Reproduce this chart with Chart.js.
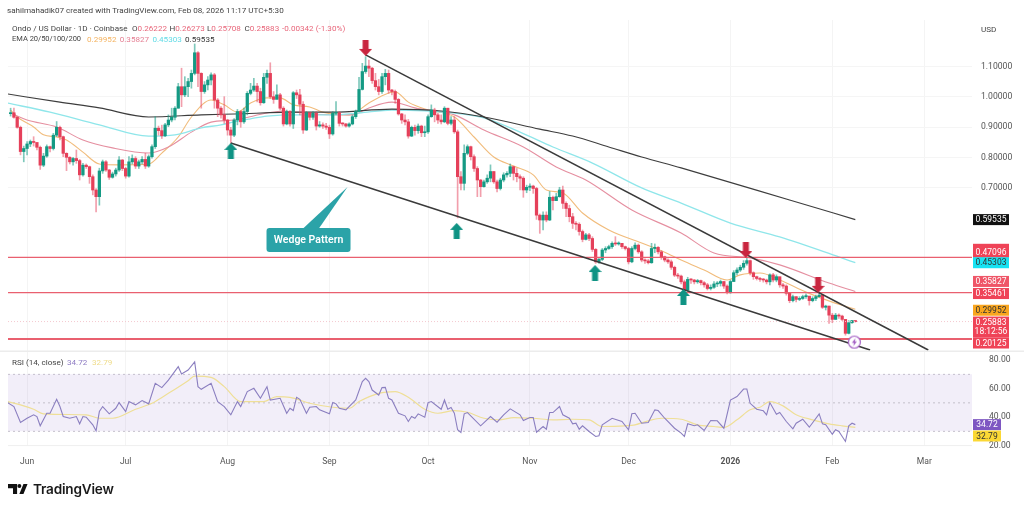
<!DOCTYPE html>
<html>
<head>
<meta charset="utf-8">
<title>Ondo / US Dollar</title>
<script src="https://cdn.jsdelivr.net/npm/chart.js@4/dist/chart.umd.min.js"></script>
<style>
    html, body { margin: 0; padding: 0; background: #fff; overflow: hidden; }
    #wrap { position: relative; width: 1024px; height: 509px; filter: blur(0.4px); font-family: Roboto, sans-serif; }
    canvas { position: absolute; left: 0; top: 0; }
    .txt { position: absolute; display: flex; white-space: nowrap; font-size: 8.1px; line-height: 12px; color: #444; }
    .txt b { font-weight: 400; color: #e8667a; }
    #logo { position: absolute; left: 8px; top: 484px; }
    #brand { position: absolute; left: 33px; top: 479px; font: 600 13.6px/20px Inter, sans-serif; color: #1a1a1a; letter-spacing: -0.2px; }
</style>
</head>
<body>
<div id="wrap">
    <canvas id="chart" width="1024" height="509"></canvas>
    <div class="txt" style="left:7px;top:4px">sahilmahadik07 created with TradingView.com, Feb 08, 2026 11:17 UTC+5:30</div>
    <div class="txt" style="left:12px;top:22px">
        <span style="width:120px">Ondo / US Dollar · 1D · Coinbase</span>
        <span style="width:37.5px">O<b>0.26222</b></span>
        <span style="width:37.5px">H<b>0.26273</b></span>
        <span style="width:37.5px">L<b>0.25708</b></span>
        <span style="width:37.5px">C<b>0.25883</b></span>
        <span><b>-0.00342 (-1.30%)</b></span>
    </div>
    <div class="txt" style="left:12px;top:33px">
        <span style="width:75px;font-size:7.5px">EMA 20/50/100/200</span>
        <span style="width:32.7px;color:#f4b25e">0.29952</span>
        <span style="width:32.7px;color:#e57f93">0.35827</span>
        <span style="width:32.7px;color:#62dbe6">0.45303</span>
        <span style="color:#333">0.59535</span>
    </div>
    <div class="txt" style="left:981px;top:23px">USD</div>
    <div class="txt" style="left:12px;top:356px">
        <span style="width:55px">RSI (14, close)</span>
        <span style="width:25px;color:#8e7cc3">34.72</span>
        <span style="color:#efdc8a">32.79</span>
    </div>
    <svg id="logo" width="20" height="11" viewBox="0 0 22 12">
        <path d="M0 0h10v11H5.500V4.500H0z M17 0h4.500L17 11h-4.500z" fill="#111"/>
        <circle cx="12.500" cy="2.200" r="2.200" fill="#111"/>
    </svg>
    <div id="brand">TradingView</div>
</div>

<script>
// candles run one per day, day 0 is 1 Jun 2025
const firstCandleDay = -5;
const firstOpen = 0.945;

const closes = [
    0.948, 0.933, 0.900, 0.820, 0.830, 0.845, 0.853, 0.850, 0.834, 0.775,
    0.805, 0.836, 0.830, 0.874, 0.900, 0.869, 0.814, 0.801, 0.786, 0.797,
    0.790, 0.743, 0.775, 0.770, 0.737, 0.693, 0.671, 0.756, 0.786, 0.759,
    0.735, 0.746, 0.759, 0.792, 0.764, 0.739, 0.786, 0.797, 0.772, 0.786,
    0.794, 0.772, 0.803, 0.836, 0.897, 0.889, 0.872, 0.908, 0.924, 0.933,
    0.963, 1.034, 1.007, 1.034, 1.051, 1.078, 1.146, 1.078, 1.018, 1.040,
    1.056, 1.073, 0.990, 0.963, 0.941, 0.924, 0.891, 0.874, 0.924, 0.952,
    0.918, 0.952, 1.012, 1.023, 1.036, 1.018, 0.981, 1.065, 1.078, 1.001,
    0.992, 1.007, 0.963, 0.911, 0.952, 0.911, 1.014, 1.007, 0.976, 0.891,
    0.948, 0.933, 0.946, 0.904, 0.908, 0.904, 0.900, 0.878, 0.946, 0.948,
    0.913, 0.911, 0.904, 0.911, 0.935, 0.952, 1.025, 1.084, 1.102, 1.095,
    1.054, 1.034, 1.018, 1.067, 1.078, 1.023, 1.018, 0.992, 0.944, 0.924,
    0.918, 0.871, 0.900, 0.889, 0.904, 0.882, 0.885, 0.935, 0.957, 0.941,
    0.924, 0.918, 0.963, 0.913, 0.924, 0.885, 0.737, 0.715, 0.814, 0.836,
    0.803, 0.764, 0.726, 0.704, 0.720, 0.732, 0.754, 0.720, 0.698, 0.726,
    0.743, 0.748, 0.770, 0.748, 0.737, 0.732, 0.693, 0.702, 0.706, 0.698,
    0.610, 0.594, 0.610, 0.594, 0.669, 0.658, 0.671, 0.693, 0.649, 0.632,
    0.605, 0.583, 0.580, 0.556, 0.530, 0.545, 0.533, 0.497, 0.456, 0.464,
    0.495, 0.500, 0.506, 0.517, 0.515, 0.517, 0.506, 0.500, 0.456, 0.500,
    0.511, 0.489, 0.462, 0.459, 0.453, 0.500, 0.504, 0.489, 0.473, 0.462,
    0.456, 0.438, 0.412, 0.409, 0.390, 0.363, 0.398, 0.396, 0.390, 0.394,
    0.387, 0.380, 0.368, 0.372, 0.383, 0.385, 0.391, 0.376, 0.354, 0.391,
    0.420, 0.429, 0.438, 0.451, 0.460, 0.420, 0.407, 0.401, 0.398, 0.396,
    0.390, 0.413, 0.396, 0.407, 0.380, 0.376, 0.352, 0.328, 0.341, 0.332,
    0.335, 0.341, 0.343, 0.328, 0.335, 0.341, 0.346, 0.306, 0.310, 0.280,
    0.266, 0.280, 0.277, 0.266, 0.220, 0.255, 0.2622, 0.25883
];
const highs = [
    0.963, 0.963, 0.935, 0.904, 0.838, 0.853, 0.858, 0.869, 0.847, 0.838,
    0.814, 0.842, 0.838, 0.880, 0.919, 0.904, 0.871, 0.816, 0.803, 0.801,
    0.825, 0.794, 0.781, 0.779, 0.772, 0.743, 0.698, 0.765, 0.792, 0.790,
    0.761, 0.752, 0.765, 0.803, 0.794, 0.768, 0.803, 0.809, 0.803, 0.792,
    0.803, 0.814, 0.809, 0.842, 0.935, 0.904, 0.907, 0.913, 0.941, 0.963,
    0.968, 1.045, 1.095, 1.067, 1.062, 1.089, 1.175, 1.150, 1.080, 1.051,
    1.067, 1.080, 1.078, 0.995, 0.968, 1.001, 0.926, 0.900, 0.929, 0.959,
    0.955, 0.963, 1.018, 1.045, 1.062, 1.045, 1.029, 1.078, 1.089, 1.113,
    1.018, 1.040, 1.012, 0.968, 0.957, 0.955, 1.018, 1.023, 1.025, 0.985,
    0.952, 0.946, 0.952, 0.952, 0.919, 0.915, 0.913, 0.907, 0.952, 0.985,
    0.952, 0.915, 0.913, 0.915, 0.941, 0.957, 1.065, 1.111, 1.133, 1.122,
    1.098, 1.078, 1.058, 1.078, 1.091, 1.089, 1.025, 1.023, 0.995, 0.946,
    0.941, 0.926, 0.904, 0.907, 0.911, 0.907, 0.904, 0.941, 0.974, 0.963,
    0.946, 0.941, 0.968, 0.963, 0.935, 0.935, 0.891, 0.754, 0.842, 0.842,
    0.838, 0.809, 0.770, 0.728, 0.726, 0.743, 0.776, 0.754, 0.726, 0.732,
    0.750, 0.754, 0.779, 0.772, 0.764, 0.743, 0.737, 0.709, 0.713, 0.709,
    0.702, 0.614, 0.621, 0.621, 0.688, 0.673, 0.682, 0.702, 0.706, 0.654,
    0.643, 0.616, 0.589, 0.585, 0.561, 0.550, 0.550, 0.539, 0.500, 0.471,
    0.500, 0.506, 0.511, 0.522, 0.539, 0.522, 0.515, 0.508, 0.504, 0.506,
    0.519, 0.515, 0.493, 0.466, 0.464, 0.517, 0.515, 0.506, 0.493, 0.475,
    0.466, 0.462, 0.442, 0.418, 0.412, 0.396, 0.405, 0.401, 0.398, 0.398,
    0.396, 0.391, 0.385, 0.380, 0.391, 0.391, 0.396, 0.391, 0.380, 0.396,
    0.427, 0.436, 0.445, 0.460, 0.468, 0.462, 0.423, 0.409, 0.405, 0.401,
    0.399, 0.416, 0.418, 0.413, 0.405, 0.385, 0.380, 0.354, 0.346, 0.341,
    0.341, 0.346, 0.350, 0.341, 0.341, 0.346, 0.352, 0.346, 0.313, 0.310,
    0.286, 0.286, 0.284, 0.280, 0.266, 0.262, 0.26273, 0.26222
];
const lows = [
    0.937, 0.930, 0.897, 0.809, 0.786, 0.809, 0.836, 0.838, 0.825, 0.761,
    0.770, 0.801, 0.819, 0.825, 0.869, 0.858, 0.803, 0.757, 0.779, 0.775,
    0.781, 0.726, 0.739, 0.764, 0.715, 0.677, 0.621, 0.643, 0.748, 0.754,
    0.728, 0.732, 0.739, 0.754, 0.757, 0.732, 0.735, 0.779, 0.764, 0.764,
    0.779, 0.764, 0.768, 0.798, 0.830, 0.874, 0.863, 0.869, 0.902, 0.918,
    0.924, 0.963, 0.968, 1.001, 1.001, 1.029, 1.073, 1.034, 0.963, 1.012,
    1.023, 1.040, 0.963, 0.935, 0.930, 0.913, 0.874, 0.845, 0.869, 0.908,
    0.900, 0.913, 0.941, 1.007, 1.018, 0.984, 0.973, 0.979, 1.045, 0.995,
    0.979, 0.995, 0.957, 0.904, 0.908, 0.904, 0.896, 0.995, 0.941, 0.880,
    0.889, 0.924, 0.926, 0.891, 0.900, 0.896, 0.893, 0.863, 0.874, 0.941,
    0.904, 0.904, 0.900, 0.900, 0.908, 0.929, 0.952, 1.023, 1.078, 1.067,
    1.045, 1.023, 1.007, 1.012, 1.040, 1.012, 1.007, 0.979, 0.940, 0.913,
    0.908, 0.864, 0.869, 0.874, 0.880, 0.869, 0.869, 0.880, 0.933, 0.918,
    0.913, 0.911, 0.915, 0.908, 0.908, 0.880, 0.601, 0.693, 0.693, 0.809,
    0.792, 0.754, 0.671, 0.671, 0.702, 0.715, 0.720, 0.715, 0.687, 0.693,
    0.720, 0.735, 0.737, 0.726, 0.720, 0.693, 0.669, 0.684, 0.691, 0.682,
    0.596, 0.550, 0.561, 0.588, 0.592, 0.627, 0.658, 0.669, 0.632, 0.605,
    0.588, 0.566, 0.561, 0.544, 0.522, 0.528, 0.526, 0.490, 0.451, 0.451,
    0.460, 0.486, 0.497, 0.500, 0.510, 0.511, 0.500, 0.495, 0.449, 0.453,
    0.495, 0.484, 0.456, 0.451, 0.449, 0.451, 0.486, 0.482, 0.464, 0.456,
    0.451, 0.431, 0.407, 0.401, 0.383, 0.358, 0.358, 0.385, 0.383, 0.385,
    0.380, 0.372, 0.363, 0.363, 0.368, 0.374, 0.376, 0.368, 0.350, 0.352,
    0.391, 0.413, 0.424, 0.431, 0.445, 0.413, 0.398, 0.396, 0.391, 0.389,
    0.383, 0.380, 0.390, 0.390, 0.372, 0.368, 0.346, 0.321, 0.324, 0.324,
    0.328, 0.332, 0.335, 0.313, 0.324, 0.328, 0.339, 0.302, 0.297, 0.253,
    0.255, 0.266, 0.269, 0.262, 0.214, 0.218, 0.253, 0.25708
];

const ema20Days = [-5, -3, 2, 5, 9, 12, 17, 22, 28, 37, 41, 46, 50, 56, 60, 64, 68, 73, 77, 81, 86, 90, 98, 104, 110, 112, 116, 122, 130, 136, 142, 148, 154, 158, 163, 169, 177, 187, 194, 199, 206, 213, 217, 223, 229, 237, 245, 252];
const ema20 = [0.957, 0.934, 0.901, 0.875, 0.868, 0.858, 0.818, 0.779, 0.776, 0.779, 0.815, 0.868, 0.934, 0.990, 0.974, 0.950, 0.980, 0.997, 0.997, 0.974, 0.967, 0.950, 0.941, 0.980, 1.013, 1.017, 0.983, 0.957, 0.934, 0.868, 0.802, 0.772, 0.743, 0.693, 0.683, 0.617, 0.561, 0.518, 0.488, 0.462, 0.429, 0.396, 0.413, 0.419, 0.396, 0.356, 0.323, 0.29952];
const ema50Days = [-5, 0, 9, 17, 26, 37, 43, 50, 56, 63, 73, 78, 87, 99, 104, 111, 113, 118, 130, 139, 151, 161, 170, 184, 199, 209, 220, 229, 244, 252];
const ema50 = [0.947, 0.924, 0.901, 0.858, 0.832, 0.815, 0.835, 0.884, 0.917, 0.924, 0.947, 0.954, 0.944, 0.941, 0.964, 0.983, 0.980, 0.964, 0.941, 0.891, 0.835, 0.769, 0.726, 0.627, 0.551, 0.485, 0.469, 0.446, 0.386, 0.35827];
const ema100Days = [-6, 7, 22, 37, 45, 53, 59, 63, 68, 73, 83, 93, 101, 111, 130, 139, 150, 160, 172, 187, 199, 214, 229, 247, 252];
const ema100 = [0.980, 0.950, 0.908, 0.871, 0.875, 0.898, 0.908, 0.918, 0.928, 0.937, 0.941, 0.941, 0.947, 0.957, 0.947, 0.931, 0.884, 0.835, 0.782, 0.700, 0.650, 0.584, 0.538, 0.472, 0.45303];
const ema200Days = [-6, 10, 22, 37, 53, 63, 83, 93, 111, 126, 139, 156, 166, 177, 187, 199, 232, 252];
const ema200 = [1.010, 0.983, 0.964, 0.934, 0.941, 0.944, 0.950, 0.950, 0.960, 0.954, 0.934, 0.894, 0.871, 0.835, 0.802, 0.766, 0.660, 0.59535];

const rsiDays = [-6, -4, -2, 0, 2, 3, 4, 6, 7, 9, 10, 11, 13, 15, 16, 17, 18, 20, 21, 22, 23, 25, 27, 28, 30, 31, 33, 35, 37, 39, 41, 43, 46, 47, 49, 51, 52, 53, 56, 58, 60, 62, 64, 65, 67, 69, 71, 73, 74, 77, 79, 80, 81, 82, 83, 85, 86, 88, 89, 92, 93, 94, 95, 97, 100, 102, 103, 104, 105, 107, 108, 109, 110, 111, 113, 115, 116, 117, 118, 119, 121, 122, 123, 126, 127, 128, 129, 130, 131, 132, 133, 134, 138, 141, 143, 145, 147, 150, 151, 153, 154, 155, 157, 158, 159, 160, 162, 163, 165, 166, 167, 168, 169, 171, 173, 174, 175, 178, 181, 183, 184, 185, 187, 189, 191, 192, 194, 197, 199, 200, 201, 203, 204, 206, 208, 210, 212, 214, 216, 218, 219, 220, 222, 224, 225, 226, 228, 229, 231, 233, 234, 236, 238, 241, 242, 243, 245, 246, 247, 249, 250, 251, 252];
const rsiValues = [50.2, 47.4, 36.2, 39.2, 41.6, 40.4, 33.9, 42.7, 42.7, 52.5, 47.4, 40.4, 39.2, 40.4, 35.3, 40.4, 39.9, 34.6, 30.4, 43.9, 47.4, 42.3, 46.2, 50.2, 43.9, 50.9, 48.6, 51.6, 49.3, 63.7, 60.7, 66.0, 75.4, 70.2, 73.0, 78.8, 61.4, 59.5, 63.7, 50.9, 47.4, 41.6, 50.9, 47.4, 57.9, 60.2, 53.2, 61.4, 52.0, 53.2, 42.7, 46.2, 44.6, 53.9, 52.5, 42.7, 46.9, 47.4, 45.1, 42.3, 50.2, 49.3, 46.2, 45.1, 52.0, 64.9, 67.2, 64.9, 59.0, 55.5, 60.7, 60.9, 53.2, 52.0, 42.7, 40.9, 36.9, 40.4, 39.2, 42.3, 39.9, 50.2, 50.9, 45.5, 52.0, 45.5, 46.7, 42.7, 31.1, 29.2, 42.3, 43.2, 33.9, 40.4, 36.4, 41.6, 45.8, 41.6, 37.6, 39.7, 39.7, 29.4, 33.4, 31.5, 43.2, 43.2, 47.4, 41.6, 39.2, 35.3, 35.7, 31.5, 33.9, 29.9, 26.4, 26.9, 34.6, 39.2, 36.9, 31.1, 42.3, 42.7, 35.7, 36.2, 45.1, 44.6, 39.2, 32.2, 28.8, 26.4, 35.3, 33.9, 34.6, 30.6, 37.6, 37.4, 32.2, 52.0, 54.4, 59.7, 59.7, 49.7, 45.5, 44.4, 41.6, 50.2, 42.0, 43.2, 36.9, 31.8, 35.7, 38.5, 32.9, 42.3, 35.3, 34.6, 28.0, 31.1, 29.9, 22.9, 33.9, 35.7, 34.72];
const rsiMaDays = [-6, -2, 2, 5, 18, 22, 26, 33, 38, 43, 49, 51, 56, 60, 65, 72, 76, 80, 86, 93, 98, 101, 107, 112, 116, 121, 125, 130, 134, 139, 144, 148, 154, 160, 166, 171, 175, 182, 185, 189, 193, 199, 204, 209, 212, 216, 220, 223, 226, 230, 234, 239, 244, 248, 252];
const rsiMa = [50.9, 48.6, 45.5, 42.3, 41.6, 39.2, 39.2, 45.5, 49.7, 56.7, 65.6, 68.8, 67.9, 61.4, 50.9, 50.9, 54.4, 53.9, 49.7, 46.9, 46.2, 50.9, 56.7, 57.9, 53.9, 45.5, 42.7, 44.6, 43.4, 39.2, 38.1, 39.7, 39.2, 38.1, 38.5, 38.1, 33.4, 33.9, 34.6, 37.4, 39.2, 38.5, 34.6, 33.4, 32.7, 38.1, 45.1, 46.9, 50.9, 47.9, 41.6, 38.1, 35.3, 33.9, 32.79];

// drawn wedge, support and resistance levels
const wedgeUpperDays = [103, 274.2];
const wedgeUpperPrices = [1.139, 0.165];
const wedgeLowerDays = [62, 256.5];
const wedgeLowerPrices = [0.848, 0.165];
const levelPrices = [0.47096, 0.35461, 0.20125];
const rsiLevels = [70, 50, 30];

const upArrowDays = [62, 130.7, 172.8, 199.7];
const upArrowPrices = [0.822, 0.558, 0.419, 0.340];
const downArrowDays = [103, 218.7, 240.7];
const downArrowPrices = [1.162, 0.495, 0.380];
const boltDays = [251.7];
const boltPrices = [0.191];
const calloutDay = 97.5;   // tip of the "Wedge Pattern" pointer
const calloutPrice = 0.703;
const calloutText = 'Wedge Pattern';

// axes
const monthDays = [0, 30, 61, 92, 122, 153, 183, 214, 245, 273];
const monthLabels = ['Jun', 'Jul', 'Aug', 'Sep', 'Oct', 'Nov', 'Dec', '2026', 'Feb', 'Mar'];
const priceTicks = [0.7, 0.8, 0.9, 1.0, 1.1];
const rsiTicks = [20, 40, 60, 80];

// price tags on the right edge
const tagTexts = ['0.59535', '0.47096', '0.45303', '0.35827', '0.35461', '0.29952', '0.25883', '0.20125', '34.72', '32.79'];
const tagValues = [0.59535, 0.47096, 0.45303, 0.35827, 0.35461, 0.29952, 0.25883, 0.20125, 34.72, 32.79];
const tagStyles = [
    { bg: '#111111', fg: '#fff', nudge: 0 },
    { bg: '#ef4357', fg: '#fff', nudge: -5, tall: 3 },
    { bg: '#17e3f3', fg: '#333', nudge: 0 },
    { bg: '#ef5668', fg: '#fff', nudge: -10 },
    { bg: '#ef4357', fg: '#fff', nudge: 1 },
    { bg: '#f9a61f', fg: '#333', nudge: 1 },
    { bg: '#ef4357', fg: '#fff', nudge: 0.5, sub: '18:12:56' },
    { bg: '#ef4357', fg: '#fff', nudge: 4 },
    { bg: '#7e57c2', fg: '#fff', nudge: 0, rsi: true },
    { bg: '#fbd835', fg: '#333', nudge: 8.6, rsi: true }
];

const GREEN = '#149a84';
const RED = '#e5405a';
const DAY_MIN = -5.8;
const DAY_MAX = 287.5;

const xy = (days, values) => days.map((d, i) => ({ x: d, y: values[i] }));
const span = v => [{ x: DAY_MIN, y: v }, { x: DAY_MAX, y: v }];

const opens = closes.map((c, i) => (i === 0 ? firstOpen : closes[i - 1]));
const candleDays = closes.map((c, i) => firstCandleDay + i);
const candleUp = closes.map((c, i) => c >= opens[i]);

function makeArrow(color, up) {
    const c = document.createElement('canvas');
    c.width = 13;
    c.height = 16;
    const g = c.getContext('2d');
    g.fillStyle = color;
    g.beginPath();
    if (up) {
        [[6.5, 0], [13, 7], [9.5, 7], [9.5, 16], [3.5, 16], [3.5, 7], [0, 7]].forEach(p => g.lineTo(p[0], p[1]));
    } else {
        [[3.5, 0], [9.5, 0], [9.5, 9], [13, 9], [6.5, 16], [0, 9], [3.5, 9]].forEach(p => g.lineTo(p[0], p[1]));
    }
    g.fill();
    return c;
}

function makeBolt() {
    const c = document.createElement('canvas');
    c.width = 15;
    c.height = 15;
    const g = c.getContext('2d');
    g.beginPath();
    g.arc(7.5, 7.5, 6, 0, Math.PI * 2);
    g.fillStyle = '#fff';
    g.fill();
    g.lineWidth = 1.2;
    g.strokeStyle = '#a35fc4';
    g.stroke();
    g.fillStyle = '#a35fc4';
    g.beginPath();
    [[8.5, 3.5], [5, 8.2], [7, 8.2], [6.5, 11.5], [10, 6.8], [8, 6.8]].forEach(p => g.lineTo(p[0], p[1]));
    g.fill();
    return c;
}

// separator, callout and right edge tags have no dataset of their own
const overlay = {
    id: 'overlay',
    afterDatasetsDraw(chart) {
        const { ctx, scales, chartArea } = chart;
        const tipX = scales.x.getPixelForValue(calloutDay);
        const tipY = scales.y.getPixelForValue(calloutPrice);

        ctx.save();
        ctx.fillStyle = '#2ba3a8';
        ctx.beginPath();
        ctx.moveTo(tipX, tipY);
        ctx.lineTo(tipX - 45, tipY + 42);
        ctx.lineTo(tipX - 29, tipY + 42);
        ctx.closePath();
        ctx.fill();
        ctx.beginPath();
        ctx.roundRect(tipX - 81, tipY + 41, 84, 24, 3);
        ctx.fill();
        ctx.fillStyle = '#fff';
        ctx.font = '600 10.5px Roboto, sans-serif';
        ctx.textAlign = 'center';
        ctx.textBaseline = 'middle';
        ctx.fillText(calloutText, tipX - 39, tipY + 53.5);

        // pane separator and bottom rule
        const sepY = scales.yRsi.top;
        ctx.fillStyle = '#ececec';
        ctx.fillRect(0, sepY - 0.5, 1024, 1.5);
        ctx.fillStyle = '#efefef';
        ctx.fillRect(chartArea.left, chartArea.bottom - 0.5, chartArea.right - chartArea.left, 1);

        tagValues.forEach((v, i) => {
            const st = tagStyles[i];
            const y = (st.rsi ? scales.yRsi : scales.y).getPixelForValue(v) + st.nudge;
            const left = chartArea.right + 1;
            const w = st.rsi ? 28 : 36;
            const up = 5.5 + (st.tall || 0);
            const h = st.sub ? 21 : 11 + (st.tall || 0);
            ctx.fillStyle = st.bg;
            ctx.fillRect(left, y - up, w, h);
            ctx.fillStyle = st.fg;
            ctx.font = '8.5px Roboto, sans-serif';
            ctx.textAlign = 'center';
            ctx.fillText(tagTexts[i], left + w / 2, y + 0.5);
            if (st.sub) ctx.fillText(st.sub, left + w / 2, y + 10);
        });
        ctx.restore();
    }
};

const lineBase = { type: 'line', pointRadius: 0, fill: false, xAxisID: 'x' };
const emaLine = (days, values, color, width) => ({
    ...lineBase, yAxisID: 'y', data: xy(days, values), borderColor: color, borderWidth: width,
    cubicInterpolationMode: 'monotone', order: 6
});

const datasets = [
    // RSI pane
    { ...lineBase, yAxisID: 'yRsi', data: span(70), borderWidth: 0, backgroundColor: 'rgba(126,87,194,0.1)', fill: { value: 30 }, order: 9 },
    ...rsiLevels.map(v => ({ ...lineBase, yAxisID: 'yRsi', data: span(v), borderColor: '#c4c0cc', borderWidth: 1, borderDash: [2, 3], order: 8 })),
    { ...lineBase, yAxisID: 'yRsi', data: xy(rsiMaDays, rsiMa), borderColor: '#efdf97', borderWidth: 1.2, cubicInterpolationMode: 'monotone', order: 7 },
    { ...lineBase, yAxisID: 'yRsi', data: xy(rsiDays, rsiValues), borderColor: '#8b7fc0', borderWidth: 1.1, order: 6 },

    // moving averages sit under the candles
    emaLine(ema200Days, ema200, '#3d3d3d', 1.1),
    emaLine(ema100Days, ema100, '#8fe6ea', 1.3),
    emaLine(ema50Days, ema50, '#e58fa0', 1.1),
    emaLine(ema20Days, ema20, '#f1bc7c', 1.1),

    // wicks then bodies
    {
        type: 'bar', yAxisID: 'y', grouped: false, barThickness: 1, order: 5,
        data: candleDays.map((d, i) => ({ x: d, y: [lows[i], highs[i]] })),
        backgroundColor: candleUp.map(u => (u ? 'rgba(20,154,132,0.55)' : 'rgba(229,64,90,0.5)'))
    },
    {
        type: 'bar', yAxisID: 'y', grouped: false, barThickness: 2.6, order: 4, minBarLength: 1,
        data: candleDays.map((d, i) => ({ x: d, y: [opens[i], closes[i]] })),
        backgroundColor: candleUp.map(u => (u ? GREEN : RED))
    },

    // levels, wedge and markers on top
    ...levelPrices.map((v, i) => ({
        ...lineBase, yAxisID: 'y', data: span(v), borderColor: '#e9606f', borderWidth: i === 2 ? 2 : 1.3, order: 3
    })),
    { ...lineBase, yAxisID: 'y', data: span(0.25883), borderColor: '#f4c9cf', borderWidth: 1, borderDash: [1, 2], order: 3 },
    { ...lineBase, yAxisID: 'y', data: xy(wedgeUpperDays, wedgeUpperPrices), borderColor: '#3a3a3a', borderWidth: 1.5, order: 2 },
    { ...lineBase, yAxisID: 'y', data: xy(wedgeLowerDays, wedgeLowerPrices), borderColor: '#3a3a3a', borderWidth: 1.5, order: 2 },
    { type: 'scatter', yAxisID: 'y', data: xy(upArrowDays, upArrowPrices), pointStyle: makeArrow('#0f9384', true), pointRadius: 7, clip: false, order: 1 },
    { type: 'scatter', yAxisID: 'y', data: xy(downArrowDays, downArrowPrices), pointStyle: makeArrow('#c9263f', false), pointRadius: 7, clip: false, order: 1 },
    { type: 'scatter', yAxisID: 'y', data: xy(boltDays, boltPrices), pointStyle: makeBolt(), pointRadius: 7, clip: false, order: 1 }
];

new Chart(document.getElementById('chart'), {
    type: 'bar',
    data: { datasets },
    plugins: [overlay],
    options: {
        responsive: false,
        animation: false,
        events: [],
        parsing: true,
        layout: { padding: { left: 7, top: 20, right: 0, bottom: 33.4 } },
        plugins: { legend: { display: false }, tooltip: { enabled: false } },
        scales: {
            x: {
                type: 'linear',
                offset: false,
                min: DAY_MIN,
                max: DAY_MAX,
                afterBuildTicks: s => { s.ticks = monthDays.map(v => ({ value: v })); },
                afterFit: s => { s.height = 30; },
                grid: { color: '#f4f4f4', offset: false, drawTicks: false },
                border: { display: false },
                ticks: {
                    autoSkip: false,
                    maxRotation: 0,
                    padding: 11,
                    color: '#555',
                    callback: v => monthLabels[monthDays.indexOf(v)],
                    font: c => ({ family: 'Roboto, sans-serif', size: 8.6, weight: c.tick && c.tick.value === 214 ? 'bold' : 'normal' })
                }
            },
            y: {
                position: 'right',
                stack: 'panes',
                stackWeight: 331,
                min: 0.1617,
                max: 1.2541,
                afterBuildTicks: s => { s.ticks = priceTicks.map(v => ({ value: v })); },
                afterFit: s => { s.width = 52; },
                grid: { color: '#f5f5f5', drawTicks: false },
                border: { display: false },
                ticks: { padding: 9, color: '#555', font: { family: 'Roboto, sans-serif', size: 8.6 }, callback: v => v.toFixed(5) }
            },
            yRsi: {
                position: 'right',
                stack: 'panes',
                stackWeight: 94.6,
                min: 20,
                max: 86.4,
                afterBuildTicks: s => { s.ticks = rsiTicks.map(v => ({ value: v })); },
                afterFit: s => { s.width = 52; },
                grid: { display: false },
                border: { display: false },
                ticks: { padding: 9, color: '#555', font: { family: 'Roboto, sans-serif', size: 8.6 }, callback: v => v.toFixed(2) }
            }
        }
    }
});
</script>
</body>
</html>
